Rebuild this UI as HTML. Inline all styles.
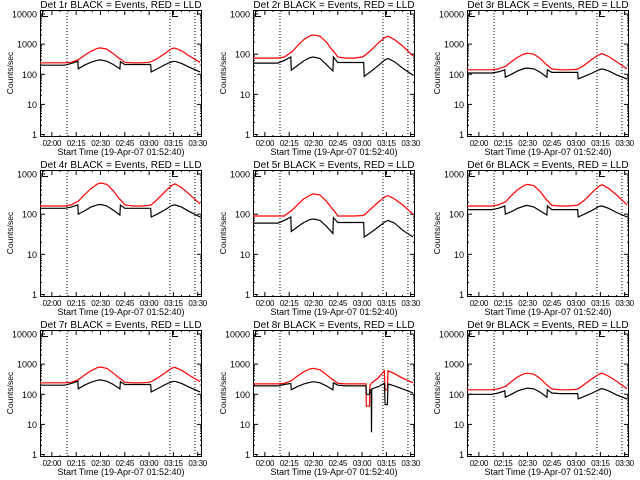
<!DOCTYPE html>
<html><head><meta charset="utf-8"><style>
html,body{margin:0;padding:0;background:#fff;}
svg{display:block;font-family:"Liberation Sans",sans-serif;}
</style></head><body>
<svg id="chart" width="640" height="480" viewBox="0 0 640 480" xmlns="http://www.w3.org/2000/svg">
<rect width="640" height="480" fill="#fff"/>
</svg>
<script>
const titles=["Det 1r","Det 2r","Det 3r","Det 4r","Det 5r","Det 6r","Det 7r","Det 8r","Det 9r"];
const decades=[4,3,4,3,3,3,4,4,4];
const xTickLabels=["02:00","02:15","02:30","02:45","03:00","03:15","03:30"];
const xTickMinutes=[0,15,30,45,60,75,90];
const markerMinutes=[9.33,72.9,88.3];
const T=[-7.3,8,12,16,16.3,20,24,28,30,34,38,42,42.3,45,50,55,60,61,61.3,65,70,74,76,80,85,91.5];
const T8=[-7.3,8,12,16,16.3,20,24,28,30,34,38,42,42.3,45,50,55,62.4,62.6,64.6,64.8,65.6,65.8,66,70,73.8,74.2,75.6,76,80,85,91.5];
const R1=[240,240,250,300,300,420,580,720,750,680,480,320,320,250,240,240,250,260,260,330,500,720,740,600,400,250];
const B1=[200,200,230,270,150,200,250,290,300,270,210,150,260,210,210,210,210,210,120,150,210,260,270,230,170,120];
const R2=[80,80,85,110,110,160,230,290,300,280,200,120,120,85,80,80,85,90,90,120,190,260,280,230,160,90];
const B2=[60,60,70,85,40,52,68,82,85,78,55,38,85,62,62,62,62,62,28,36,52,72,78,65,45,30];
const R3=[140,140,150,180,180,260,370,470,500,460,330,200,200,150,140,140,145,150,150,200,320,440,480,390,260,150];
const B3=[110,110,120,140,80,100,130,155,160,150,115,80,140,115,115,115,115,115,70,85,110,140,150,130,95,70];
const R4=[160,160,170,210,210,300,430,560,600,550,380,230,230,170,160,160,165,170,170,230,370,520,570,460,310,180];
const B4=[140,140,150,170,100,120,150,170,175,160,125,95,170,140,140,140,140,140,85,100,130,165,170,150,115,85];
const R5=[90,90,90,120,120,170,240,300,320,300,210,130,130,90,90,90,92,95,95,130,200,270,290,240,170,100];
const B5=[60,60,70,85,37,48,62,74,76,70,50,33,82,62,62,62,62,62,27,34,48,64,70,60,40,27];
const R6=[160,160,170,200,200,290,410,520,550,510,360,220,220,165,160,160,165,170,170,220,350,490,540,440,300,170];
const B6=[130,130,140,160,100,115,140,160,165,150,120,95,160,130,130,130,130,130,85,100,125,155,160,140,110,85];
const R7=[240,240,250,300,300,430,600,760,800,720,500,330,330,250,240,240,250,260,260,340,520,740,780,630,420,260];
const B7=[200,200,230,270,150,200,250,290,300,270,210,150,260,210,210,210,210,210,120,150,210,260,270,230,170,120];
const R8=[220,220,230,280,280,400,560,700,720,650,450,300,300,230,220,220,220,40,40,200,220,230,240,350,600,140,140,600,480,340,240];
const B8=[190,190,210,230,140,180,220,250,260,240,190,140,240,200,190,190,190,100,100,140,140,5.5,150,180,230,45,45,220,190,150,110];
const R9=[140,140,150,180,180,260,380,480,500,460,330,200,200,150,140,140,145,150,150,210,330,460,500,400,270,150];
const B9=[100,100,110,130,80,100,130,150,160,150,115,80,140,110,105,105,105,105,70,85,110,140,155,130,95,70];

const reds=[R1,R2,R3,R4,R5,R6,R7,R8,R9];
const blacks=[B1,B2,B3,B4,B5,B6,B7,B8,B9];
const times=[T,T,T,T,T,T,T,T8,T];

const NS="http://www.w3.org/2000/svg";
const svg=document.getElementById('chart');
function mk(tag,attrs,parent){const e=document.createElementNS(NS,tag);for(const k in attrs)e.setAttribute(k,attrs[k]);parent.appendChild(e);return e;}
const X0=40,X1=201,Y0=10,Y1=136,YB=134.5,YT=14;
function xs(t){return X0+(t+7.333)/15*24.3;}
for(let p=0;p<9;p++){
  const ox=[0,213,427][p%3], oy=[0,160,320][Math.floor(p/3)];
  const nd=decades[p];
  const ys=v=>YB-Math.log10(v)*(YB-YT)/nd;
  const g=mk('g',{transform:`translate(${ox},${oy})`},svg);
  
  
  const t=mk('text',{x:121,y:8,'font-size':10,'text-anchor':'middle'},g);
  t.textContent=titles[p]+" BLACK = Events, RED = LLD";
  
  
  const fr=mk('rect',{x:X0+.5,y:Y0+.5,width:X1-X0,height:Y1-Y0,fill:'none',stroke:'#000','stroke-width':1},g);
  
  
  for(let d=0;d<=nd;d++){
    const y=ys(Math.pow(10,d));
    mk('line',{x1:X0,x2:X0+5,y1:y,y2:y,stroke:'#000'},g);
    mk('line',{x1:X1-4,x2:X1+1,y1:y,y2:y,stroke:'#000'},g);
    const lb=mk('text',{x:X0-3,y:y+3.5,'font-size':9,'text-anchor':'end'},g);
    lb.textContent=String(Math.pow(10,d));
    
    
    if(d<nd)for(let m=2;m<10;m++){
      const ym=ys(m*Math.pow(10,d));
      mk('line',{x1:X0,x2:X0+2,y1:ym,y2:ym,stroke:'#000'},g);
      mk('line',{x1:X1-1,x2:X1+1,y1:ym,y2:ym,stroke:'#000'},g);
    }
  }
  const yl=mk('text',{x:0,y:0,'font-size':8.5,'text-anchor':'middle',transform:'translate(13,73) rotate(-90)'},g);
  yl.textContent="Counts/sec";
  
  
  for(let m=-5;m<=90;m+=5){
    const x=xs(m);const major=(m%15===0);
    mk('line',{x1:x,x2:x,y1:Y1+1,y2:Y1+1-(major?5:2),stroke:'#000'},g);
    mk('line',{x1:x,x2:x,y1:Y0,y2:Y0+(major?5:2),stroke:'#000'},g);
  }
  xTickMinutes.forEach((m,i)=>{
    const lb=mk('text',{x:xs(m),y:146,'font-size':8,'text-anchor':'middle','letter-spacing':'-0.3'},g);
    lb.textContent=xTickLabels[i];
    
    
  });
  const xl=mk('text',{x:121,y:155,'font-size':9,'text-anchor':'middle'},g);
  xl.textContent="Start Time (19-Apr-07 01:52:40)";
  
  
  markerMinutes.forEach(m=>{
    const l=mk('line',{x1:xs(m),x2:xs(m),y1:Y0,y2:Y1,stroke:'#000','stroke-dasharray':'1,2'},g);
    
    
  });
  [X0+2,xs(markerMinutes[1])+2].forEach(x=>{
    mk('path',{d:`M${x+.5} ${Y0+1}V${Y0+6.5}H${x+6}`,fill:'none',stroke:'#000'},g);
  });
  const tt=times[p];
  const pts=arr=>tt.map((m,i)=>xs(m).toFixed(1)+","+ys(arr[i]).toFixed(1)).join(" ");
  const rl=mk('polyline',{points:pts(reds[p]),fill:'none',stroke:'#ff0000','stroke-width':1.2},g);
  
  
  const bl=mk('polyline',{points:pts(blacks[p]),fill:'none',stroke:'#000','stroke-width':1.2},g);
  
  
}
</script>
</body></html>
